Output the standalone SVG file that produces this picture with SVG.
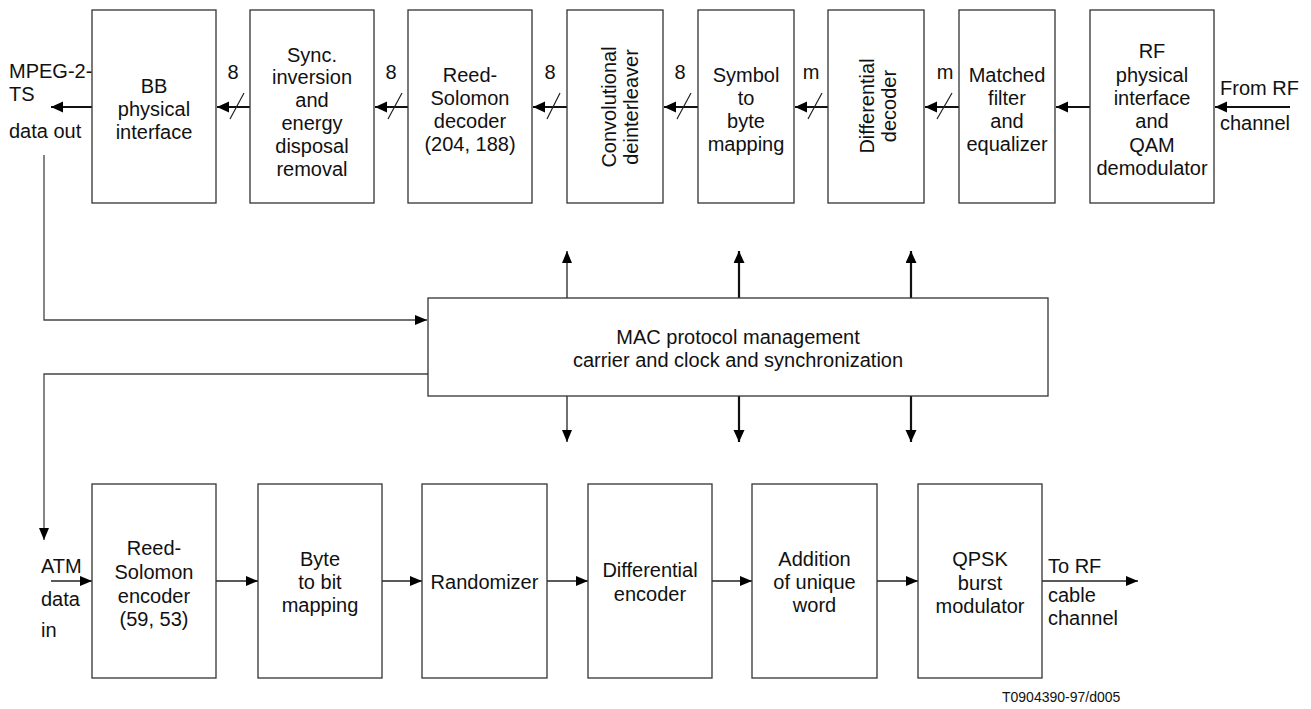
<svg xmlns="http://www.w3.org/2000/svg" width="1311" height="709" viewBox="0 0 1311 709">
<style>
.box{fill:#fff;stroke:#333;stroke-width:1.3}
text{font-family:"Liberation Sans",Arial,sans-serif;font-size:20px;fill:#111}
.c{text-anchor:middle}
.thick{stroke:#111;stroke-width:2.2;fill:none}
.thin{stroke:#222;stroke-width:1.3;fill:none}
.gray{stroke:#444;stroke-width:1.3;fill:none}
.sl{stroke:#222;stroke-width:1.2;fill:none}
.foot{font-size:14px}
</style>
<defs>
<marker id="ah" markerUnits="userSpaceOnUse" markerWidth="13" markerHeight="12" refX="12" refY="5.5" orient="auto">
<path d="M0,0 L12,5.5 L0,11 z" fill="#000"/>
</marker>
<marker id="ahs" markerUnits="userSpaceOnUse" markerWidth="13" markerHeight="12" refX="12" refY="5.5" orient="auto">
<path d="M0,0.5 L12,5.5 L0,10.5 z" fill="#000"/>
</marker>
</defs>
<rect width="1311" height="709" fill="#fff"/>

<g id="connectors">
<path class="thick" d="M1290,107 L1215,107" marker-end="url(#ah)"/>
<path class="thick" d="M1090,107 L1056,107" marker-end="url(#ah)"/>
<path class="thick" d="M959,107 L925,107" marker-end="url(#ah)"/>
<path class="thick" d="M828,107 L795,107" marker-end="url(#ah)"/>
<path class="thick" d="M698,107 L664,107" marker-end="url(#ah)"/>
<path class="thick" d="M567,107 L533,107" marker-end="url(#ah)"/>
<path class="thick" d="M408,107 L375,107" marker-end="url(#ah)"/>
<path class="thick" d="M250,107 L217,107" marker-end="url(#ah)"/>
<path class="thick" d="M92,107 L51,107" marker-end="url(#ah)"/>
<path class="sl" d="M937,119 L952,93 M808,119 L822,93 M677,119 L691,93 M547,119 L560,93 M388,119 L402,93 M230,119 L244,93"/>
<text class="c" x="945" y="79">m</text>
<text class="c" x="811" y="79">m</text>
<text class="c" x="680" y="79">8</text>
<text class="c" x="550" y="79">8</text>
<text class="c" x="391" y="79">8</text>
<text class="c" x="233" y="79">8</text>

<path class="gray" d="M44,155 L44,320 L427,320" marker-end="url(#ahs)"/>
<path class="gray" d="M428,374 L44,374 L44,540" marker-end="url(#ahs)"/>

<path class="thin" d="M567,298 L567,251" marker-end="url(#ahs)"/>
<path class="thick" d="M739,298 L739,251" marker-end="url(#ah)"/>
<path class="thick" d="M911,298 L911,251" marker-end="url(#ah)"/>
<path class="thin" d="M567,396 L567,442" marker-end="url(#ahs)"/>
<path class="thick" d="M739,396 L739,442" marker-end="url(#ah)"/>
<path class="thick" d="M911,396 L911,442" marker-end="url(#ah)"/>

<path class="thin" d="M51,581 L92,581" marker-end="url(#ahs)"/>
<path class="thin" d="M216,581 L258,581" marker-end="url(#ahs)"/>
<path class="thin" d="M382,581 L422,581" marker-end="url(#ahs)"/>
<path class="thin" d="M547,581 L588,581" marker-end="url(#ahs)"/>
<path class="thin" d="M712,581 L752,581" marker-end="url(#ahs)"/>
<path class="thin" d="M877,581 L918,581" marker-end="url(#ahs)"/>
<path class="thin" d="M1042,581 L1138,581" marker-end="url(#ahs)"/>
</g>

<g id="mpeg-out">
<text x="9" y="78">MPEG-2-</text>
<text x="9" y="101">TS</text>
<text x="9" y="138">data out</text>
</g>
<g id="from-rf">
<text x="1220" y="95">From RF</text>
<text x="1220" y="130">channel</text>
</g>

<g id="bb">
<rect class="box" x="92" y="10" width="124" height="193"/>
<text class="c" x="154" y="93">BB</text>
<text class="c" x="154" y="116">physical</text>
<text class="c" x="154" y="139">interface</text>
</g>
<g id="sync">
<rect class="box" x="250" y="10" width="124" height="193"/>
<text class="c" x="312" y="62">Sync.</text>
<text class="c" x="312" y="84">inversion</text>
<text class="c" x="312" y="107">and</text>
<text class="c" x="312" y="130">energy</text>
<text class="c" x="312" y="153">disposal</text>
<text class="c" x="312" y="176">removal</text>
</g>
<g id="rs-decoder">
<rect class="box" x="408" y="10" width="124" height="193"/>
<text class="c" x="470" y="82">Reed-</text>
<text class="c" x="470" y="105">Solomon</text>
<text class="c" x="470" y="128">decoder</text>
<text class="c" x="470" y="151">(204, 188)</text>
</g>
<g id="deinterleaver">
<rect class="box" x="567" y="10" width="96" height="193"/>
<text class="c" transform="translate(616,107) rotate(-90)">Convolutional</text>
<text class="c" transform="translate(638,107) rotate(-90)">deinterleaver</text>
</g>
<g id="symbol-byte">
<rect class="box" x="698" y="10" width="96" height="193"/>
<text class="c" x="746" y="82">Symbol</text>
<text class="c" x="746" y="105">to</text>
<text class="c" x="746" y="128">byte</text>
<text class="c" x="746" y="151">mapping</text>
</g>
<g id="diff-decoder">
<rect class="box" x="828" y="10" width="96" height="193"/>
<text class="c" transform="translate(874,106) rotate(-90)">Differential</text>
<text class="c" transform="translate(896,106) rotate(-90)">decoder</text>
</g>
<g id="matched">
<rect class="box" x="959" y="10" width="96" height="193"/>
<text class="c" x="1007" y="82">Matched</text>
<text class="c" x="1007" y="105">filter</text>
<text class="c" x="1007" y="128">and</text>
<text class="c" x="1007" y="151">equalizer</text>
</g>
<g id="rf-qam">
<rect class="box" x="1090" y="10" width="124" height="193"/>
<text class="c" x="1152" y="58">RF</text>
<text class="c" x="1152" y="82">physical</text>
<text class="c" x="1152" y="105">interface</text>
<text class="c" x="1152" y="128">and</text>
<text class="c" x="1152" y="152">QAM</text>
<text class="c" x="1152" y="175">demodulator</text>
</g>

<g id="mac">
<rect class="box" x="428" y="298" width="620" height="98"/>
<text class="c" x="738" y="344">MAC protocol management</text>
<text class="c" x="738" y="367">carrier and clock and synchronization</text>
</g>

<g id="atm-in">
<text x="41" y="573">ATM</text>
<text x="41" y="606">data</text>
<text x="41" y="637">in</text>
</g>
<g id="rs-encoder">
<rect class="box" x="92" y="484" width="124" height="194"/>
<text class="c" x="154" y="555">Reed-</text>
<text class="c" x="154" y="579">Solomon</text>
<text class="c" x="154" y="603">encoder</text>
<text class="c" x="154" y="626">(59, 53)</text>
</g>
<g id="byte-bit">
<rect class="box" x="258" y="484" width="124" height="194"/>
<text class="c" x="320" y="566">Byte</text>
<text class="c" x="320" y="589">to bit</text>
<text class="c" x="320" y="612">mapping</text>
</g>
<g id="randomizer">
<rect class="box" x="422" y="484" width="125" height="194"/>
<text class="c" x="484.5" y="589">Randomizer</text>
</g>
<g id="diff-encoder">
<rect class="box" x="588" y="484" width="124" height="194"/>
<text class="c" x="650" y="577">Differential</text>
<text class="c" x="650" y="601">encoder</text>
</g>
<g id="unique-word">
<rect class="box" x="752" y="484" width="125" height="194"/>
<text class="c" x="814.5" y="566">Addition</text>
<text class="c" x="814.5" y="589">of unique</text>
<text class="c" x="814.5" y="612">word</text>
</g>
<g id="qpsk">
<rect class="box" x="918" y="484" width="124" height="194"/>
<text class="c" x="980" y="566">QPSK</text>
<text class="c" x="980" y="590">burst</text>
<text class="c" x="980" y="613">modulator</text>
</g>
<g id="to-rf">
<text x="1048" y="573">To RF</text>
<text x="1048" y="602">cable</text>
<text x="1048" y="625">channel</text>
</g>
<text class="foot" x="1002" y="702">T0904390-97/d005</text>
</svg>
